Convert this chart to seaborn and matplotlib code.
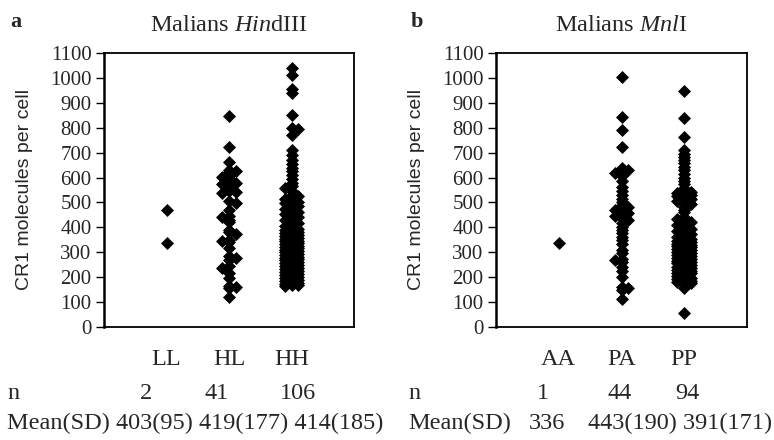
import matplotlib
matplotlib.use("Agg")
import matplotlib.pyplot as plt
import pandas as pd
import seaborn as sns

# CR1 molecules per cell
hind_genotypes = ["LL", "HL", "HH"]
hind_LL = [470, 336]
hind_HL = [847, 724, 664, 632, 628, 622, 608, 603, 598, 582, 578, 574, 560,
           545, 540, 536, 505, 498, 470, 445, 440, 430, 420, 390, 380, 375,
           350, 345, 340, 318, 285, 278, 270, 245, 238, 215, 195, 165, 160,
           155, 120]
hind_HH = [1038, 1012, 955, 940, 851, 800, 794, 771, 710, 690, 672, 655, 640,
           625, 610, 595, 580, 565, 560, 545, 530,
           525, 518, 512, 506, 500, 497, 490, 486, 480, 474,
           470, 463, 457, 452, 446, 441, 433, 428, 421, 416,
           411, 404, 399, 395, 391, 386, 383, 379, 375, 371,
           366, 362, 359, 355, 352, 347, 344, 340, 337, 333,
           330, 326, 323, 319, 316, 311, 308, 304, 300, 297,
           293, 289, 286, 282, 279, 275, 272, 268, 264, 261,
           257, 253, 249, 246, 242, 238, 234, 230, 226, 222,
           218, 214, 210, 206, 202, 198, 194, 190, 186, 182,
           178, 174, 170, 167, 165]
hind_n = [2, 41, 106]
hind_stats = ["403(95)", "419(177)", "414(185)"]

mnl_genotypes = ["AA", "PA", "PP"]
mnl_AA = [336]
mnl_PA = [1005, 844, 791, 721, 640, 632, 628, 620, 605, 585, 563, 545, 530,
          515, 500, 490, 482, 475, 470, 465, 458, 452, 445, 438, 430, 418,
          403, 390, 376, 362, 349, 335, 310, 296, 275, 268, 262, 242, 225,
          200, 162, 155, 150, 112]
mnl_PP = [949, 838, 761, 711, 695, 684, 670, 658, 644, 630, 615, 600, 588,
          575, 560,
          545, 540, 538, 532, 528, 525, 520, 515, 510, 505, 500, 495,
          480, 470, 460,
          440, 435, 428, 420, 415, 410, 402, 395, 390, 385,
          380, 372, 368, 362, 358, 352, 348, 345, 342, 338,
          335, 330, 326, 325, 322, 318, 315, 310, 306, 302,
          298, 295, 290, 286, 282, 278, 275, 270, 266, 262,
          258, 255, 250, 246, 242, 238, 235, 230, 226, 222,
          218, 215, 210, 205, 200, 196, 192, 188, 185, 180,
          178, 175, 155, 55]
mnl_n = [1, 44, 94]
mnl_stats = ["336", "443(190)", "391(171)"]

yticks = list(range(0, 1101, 100))

sns.set_style("ticks")
plt.rcParams["font.family"] = ["Liberation Serif", "DejaVu Serif"]
plt.rcParams["mathtext.fontset"] = "custom"
plt.rcParams["mathtext.rm"] = "Liberation Serif"
plt.rcParams["mathtext.it"] = "Liberation Serif:italic"

W, H = 774, 440
fig = plt.figure(figsize=(W / 100, H / 100), dpi=100)


def side_offsets(values, gap=10, step=0.11):
    # push near-equal values one column left/right, like the original dot plot
    placed = []
    offs = [0.0] * len(values)
    order = sorted(range(len(values)), key=lambda i: -values[i])
    for i in order:
        v = values[i]
        dist = {}
        for col in (0, 1, -1):
            dist[col] = min([abs(v - pv) for pv, pc in placed if pc == col] or [1e9])
        if dist[0] >= gap:
            best = 0
        else:
            best = 1 if dist[1] >= dist[-1] else -1
            if dist[best] < dist[0]:
                best = 0
        placed.append((v, best))
        offs[i] = best * step
    return offs


def panel(ax, genotypes, groups, title):
    rows = []
    for k, (g, vals) in enumerate(zip(genotypes, groups)):
        for v, o in zip(vals, side_offsets(vals)):
            rows.append({"genotype": g, "pos": k + o, "cr1": v})
    df = pd.DataFrame(rows)
    sns.scatterplot(data=df, x="pos", y="cr1", ax=ax, color="black", marker="D",
                    s=44, linewidth=0)
    ax.set_xlim(-1, 3)
    ax.set_ylim(0, 1100)
    ax.set_yticks(yticks)
    ax.set_xticks(range(len(genotypes)))
    ax.set_xticklabels(genotypes)
    ax.tick_params(axis="y", length=6, width=1, color="black", labelsize=15, pad=3)
    ax.tick_params(axis="x", length=0, pad=16, labelsize=17.5)
    ax.set_xlabel("")
    ax.set_ylabel("CR1 molecules per cell", family=["Liberation Sans"], fontsize=14,
                  labelpad=12)
    for side, sp in ax.spines.items():
        sp.set_visible(True)
        sp.set_color("black")
        sp.set_linewidth(1.8 if side == "left" else 1.3)
    ax.set_title(title, fontsize=17.5, pad=16)


ax_a = fig.add_axes([104 / W, 1 - 327 / H, 250 / W, 274 / H])
ax_b = fig.add_axes([496 / W, 1 - 327 / H, 251 / W, 274 / H])

panel(ax_a, hind_genotypes, [hind_LL, hind_HL, hind_HH], r"Malians $\mathit{Hin}$dIII")
panel(ax_b, mnl_genotypes, [mnl_AA, mnl_PA, mnl_PP], r"Malians $\mathit{Mnl}$I")

fig.text(16 / W, 1 - 22 / H, "a", ha="center", va="center", weight="bold", fontsize=16)
fig.text(417 / W, 1 - 22 / H, "b", ha="center", va="center", weight="bold", fontsize=16)

# n and Mean(SD) rows under each panel
row_n = 1 - 393 / H
row_m = 1 - 423 / H
fs = 17.5
fig.text(7 / W, row_n, "n", ha="left", va="center", fontsize=fs)
for x, v in zip([146, 217, 298], hind_n):
    fig.text(x / W, row_n, str(v), ha="center", va="center", fontsize=fs)
fig.text(7 / W, row_m, "Mean(SD) " + " ".join(hind_stats), ha="left", va="center",
         fontsize=fs)

fig.text(408 / W, row_n, "n", ha="left", va="center", fontsize=fs)
for x, v in zip([543, 620, 687], mnl_n):
    fig.text(x / W, row_n, str(v), ha="center", va="center", fontsize=fs)
fig.text(408 / W, row_m, "Mean(SD)", ha="left", va="center", fontsize=fs)
fig.text(547 / W, row_m, mnl_stats[0], ha="center", va="center", fontsize=fs)
fig.text(772 / W, row_m, " ".join(mnl_stats[1:]), ha="right", va="center", fontsize=fs)

fig.savefig("out.png", dpi=100)
